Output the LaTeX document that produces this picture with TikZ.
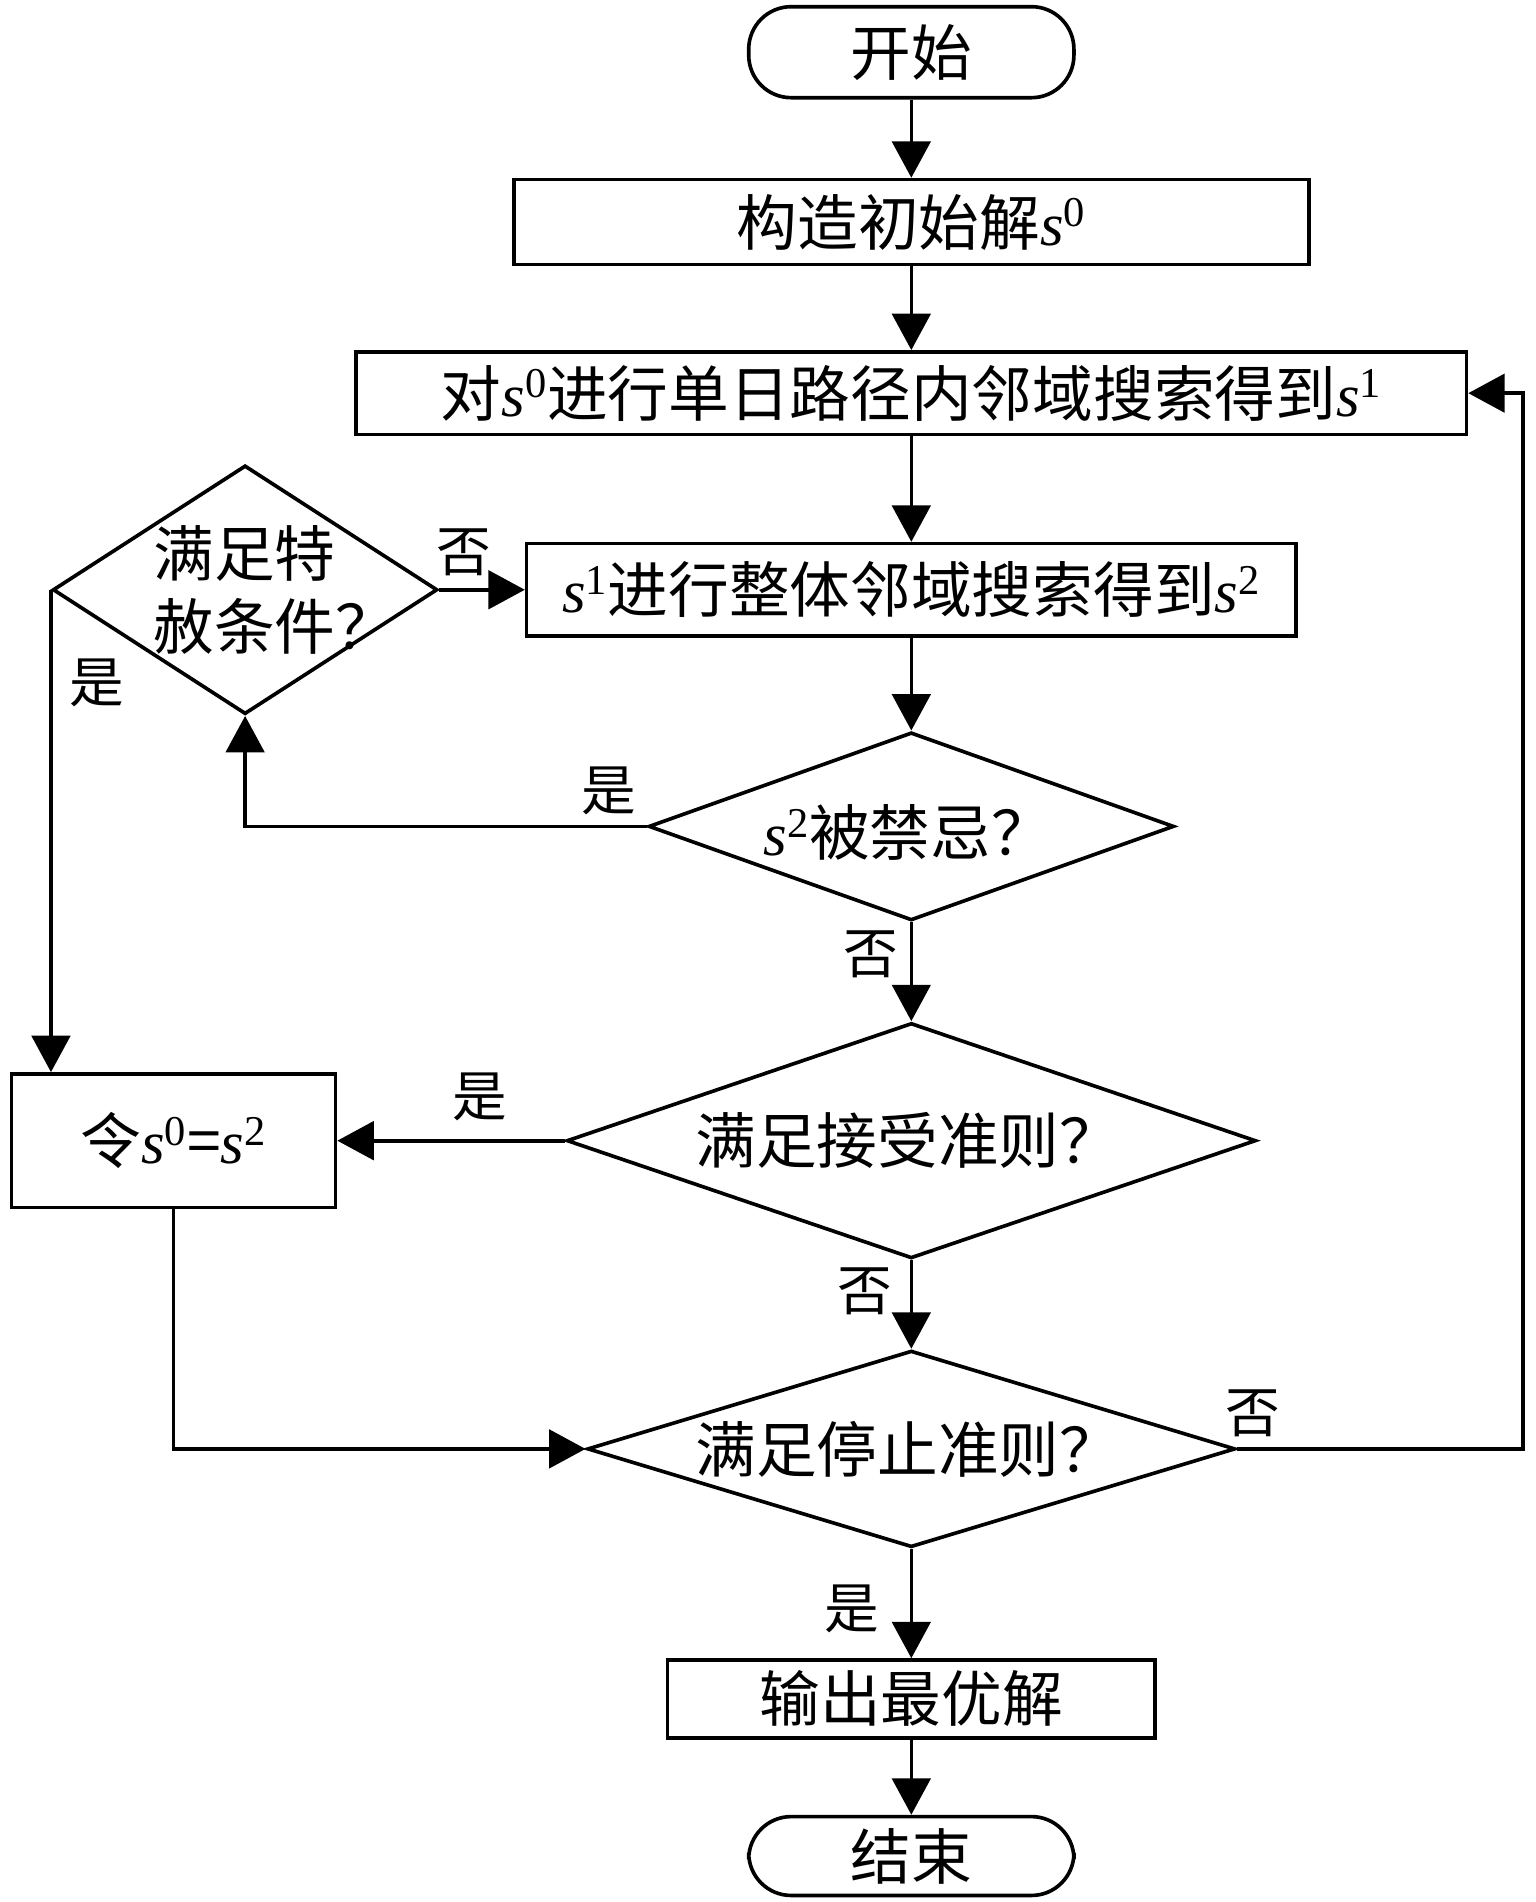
\documentclass[tikz,border=0pt]{standalone}
\usepackage{fontspec}
\setmainfont{Liberation Serif}
\newfontfamily\cjk{Noto Sans CJK SC}
\usetikzlibrary{arrows.meta,shapes.geometric}
\newcommand\myS[1]{{\rmfamily\itshape s}\textsuperscript{\rmfamily #1}}
\begin{document}
\begin{tikzpicture}[x=0.6pt,y=-0.6pt,
  line width=1.8pt,
  txt/.style={font=\fontsize{30pt}{36pt}\selectfont\cjk, inner sep=0pt},
  box/.style={draw, rectangle, txt},
  term/.style={draw, rectangle, rounded corners=21pt, txt},
  dia/.style={draw, diamond, inner sep=0pt},
  lab/.style={font=\fontsize{27pt}{30pt}\selectfont\cjk, inner sep=0pt},
  arr/.style={-{Triangle[length=18pt,width=19pt]}},
]
\useasboundingbox (0,0) rectangle (1265,1567.4);
% nodes
\node[term, minimum width=160.8pt, minimum height=45pt] (start) at (751,43) {开始};
\node[box, minimum width=393pt, minimum height=42pt] (b1) at (751,183) {构造初始解\myS{0}};
\node[box, minimum width=549pt, minimum height=40.8pt] (b2) at (751,324) {对\myS{0}进行单日路径内邻域搜索得到\myS{1}};
\node[box, minimum width=380.4pt, minimum height=45.6pt] (b3) at (751,486) {\myS{1}进行整体邻域搜索得到\myS{2}};
\node[dia, minimum width=190.2pt, minimum height=123pt] (d1) at (202,486) {};
\node[txt, align=left, anchor=west] (d1t) at (125,486) {满足特\\赦条件？};
\node[dia, minimum width=259.8pt, minimum height=93pt] (d2) at (751,681) {};
\node[txt] (d2t) at (748,686) {\myS{2}被禁忌？};
\node[box, minimum width=160.2pt, minimum height=66pt] (b4) at (143,940) {令\myS{0}={\rmfamily\itshape s}\textsuperscript{\rmfamily 2}};
\node[dia, minimum width=340.8pt, minimum height=116.4pt] (d3) at (751,940) {};
\node[txt] (d3t) at (748,940) {满足接受准则？};
\node[dia, minimum width=320.4pt, minimum height=97.2pt] (d4) at (751,1194) {};
\node[txt] (d4t) at (748,1194) {满足停止准则？};
\node[box, minimum width=241.2pt, minimum height=38.4pt] (b5) at (751,1400) {输出最优解};
\node[term, minimum width=160.8pt, minimum height=39pt] (end) at (751,1529.5) {结束};
\coordinate (rt) at (1255,1194);
% connectors
\draw[arr] (start) -- (b1);
\draw[arr] (b1) -- (b2);
\draw[arr] (b2) -- (b3);
\draw[arr] (b3) -- (d2);
\draw[arr] (d1.east) -- (b3.west);
\draw[arr] (d2.west) -| (d1.south);
\draw[arr] (d1.west) -- (d1.west |- b4.north);
\draw[arr] (d2) -- (d3);
\draw[arr] (d3.west) -- (b4.east);
\draw[arr] (d3) -- (d4);
\draw[arr] (b4.south) |- (d4.west);
\draw[arr] (d4.east) -- (rt) |- (b2.east);
\draw[arr] (d4) -- (b5);
\draw[arr] (b5) -- (end);
% labels
\node[lab] (l1) at (382,455) {否};
\node[lab] (l2) at (502,652) {是};
\node[lab] (l3) at (80,563) {是};
\node[lab] (l4) at (718,786) {否};
\node[lab] (l5) at (395,904) {是};
\node[lab] (l6) at (713,1064) {否};
\node[lab] (l7) at (1032,1165) {否};
\node[lab] (l8) at (702,1326) {是};
\end{tikzpicture}
\end{document}
